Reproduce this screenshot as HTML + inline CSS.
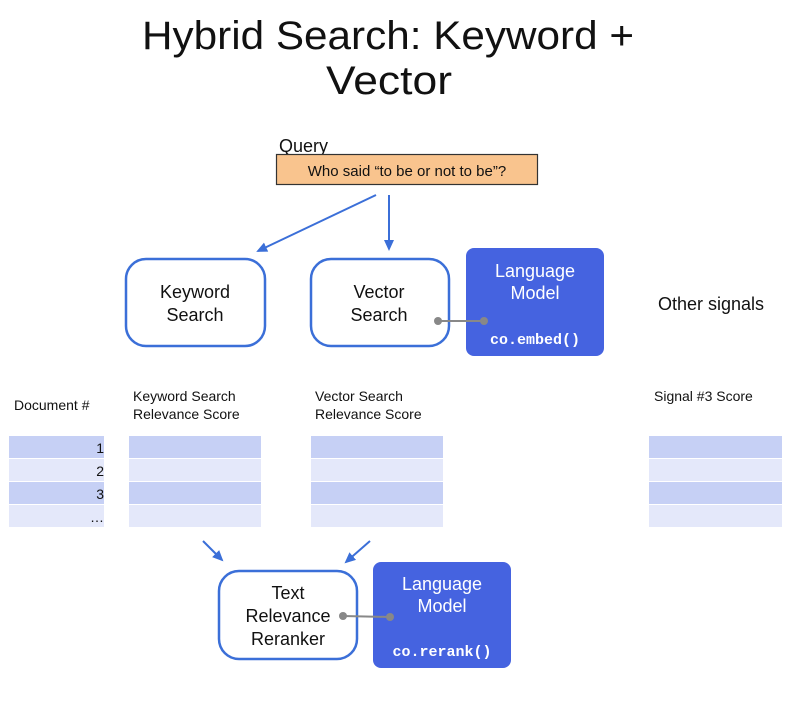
<!DOCTYPE html>
<html><head><meta charset="utf-8"><style>
html,body{margin:0;padding:0;background:#fff;}
svg{display:block;}
text{font-family:"Liberation Sans",Arial,sans-serif;}
text.mono{font-family:"Liberation Mono","DejaVu Sans Mono",monospace;font-weight:bold;}
</style></head><body>
<svg width="785" height="718" viewBox="0 0 785 718" xmlns="http://www.w3.org/2000/svg">
<defs>
<marker id="ah" markerWidth="12" markerHeight="12" refX="9" refY="6" orient="auto" markerUnits="userSpaceOnUse">
<path d="M0,1 L11,6 L0,11 z" fill="#3b6fd8"/>
</marker>
</defs>
<text x="142" y="49" font-size="40" fill="#111" textLength="492" lengthAdjust="spacingAndGlyphs">Hybrid Search: Keyword +</text>
<text x="326" y="94" font-size="40" fill="#111" textLength="126" lengthAdjust="spacingAndGlyphs">Vector</text>

<text x="279" y="152" font-size="18" fill="#111">Query</text>
<rect x="276.5" y="154.5" width="261" height="30" fill="#f9c48e" stroke="#333" stroke-width="1.2"/>
<text x="407" y="176" text-anchor="middle" font-size="15" fill="#111">Who said “to be or not to be”?</text>

<g stroke="#3b6fd8" stroke-width="2" fill="none" marker-end="url(#ah)">
<line x1="376" y1="195" x2="258" y2="251"/>
<line x1="389" y1="195" x2="389" y2="249"/>
<line x1="203" y1="541" x2="222" y2="560"/>
<line x1="370" y1="541" x2="346" y2="562"/>
</g>

<rect x="126" y="259" width="139" height="87" rx="20" fill="#fff" stroke="#3b6fd8" stroke-width="2.5"/>
<text x="195" y="298" text-anchor="middle" font-size="18" fill="#111">Keyword</text>
<text x="195" y="321" text-anchor="middle" font-size="18" fill="#111">Search</text>

<rect x="311" y="259" width="138" height="87" rx="20" fill="#fff" stroke="#3b6fd8" stroke-width="2.5"/>
<text x="379" y="298" text-anchor="middle" font-size="18" fill="#111">Vector</text>
<text x="379" y="321" text-anchor="middle" font-size="18" fill="#111">Search</text>

<rect x="466" y="248" width="138" height="108" rx="8" fill="#4563e0"/>
<text x="535" y="277" text-anchor="middle" font-size="18" fill="#fff">Language</text>
<text x="535" y="299" text-anchor="middle" font-size="18" fill="#fff">Model</text>
<text x="535" y="344" text-anchor="middle" font-size="15" class="mono" fill="#fff">co.embed()</text>
<line x1="438" y1="321" x2="484" y2="321" stroke="#888" stroke-width="2"/>
<circle cx="438" cy="321" r="4" fill="#888"/><circle cx="484" cy="321" r="4" fill="#888"/>

<text x="658" y="310" font-size="18" fill="#111">Other signals</text>

<text x="14" y="410" font-size="14" fill="#111">Document  #</text>
<text x="133" y="401" font-size="14" fill="#111">Keyword Search</text>
<text x="133" y="419" font-size="14" fill="#111">Relevance Score</text>
<text x="315" y="401" font-size="14" fill="#111">Vector Search</text>
<text x="315" y="419" font-size="14" fill="#111">Relevance Score</text>
<text x="654" y="401" font-size="14" fill="#111">Signal #3 Score</text>

<g>
<rect x="9" y="436" width="95" height="22" fill="#c6d0f5"/>
<rect x="9" y="459" width="95" height="22" fill="#e4e8fa"/>
<rect x="9" y="482" width="95" height="22" fill="#c6d0f5"/>
<rect x="9" y="505" width="95" height="22" fill="#e4e8fa"/>
<rect x="129" y="436" width="132" height="22" fill="#c6d0f5"/>
<rect x="129" y="459" width="132" height="22" fill="#e4e8fa"/>
<rect x="129" y="482" width="132" height="22" fill="#c6d0f5"/>
<rect x="129" y="505" width="132" height="22" fill="#e4e8fa"/>
<rect x="311" y="436" width="132" height="22" fill="#c6d0f5"/>
<rect x="311" y="459" width="132" height="22" fill="#e4e8fa"/>
<rect x="311" y="482" width="132" height="22" fill="#c6d0f5"/>
<rect x="311" y="505" width="132" height="22" fill="#e4e8fa"/>
<rect x="649" y="436" width="133" height="22" fill="#c6d0f5"/>
<rect x="649" y="459" width="133" height="22" fill="#e4e8fa"/>
<rect x="649" y="482" width="133" height="22" fill="#c6d0f5"/>
<rect x="649" y="505" width="133" height="22" fill="#e4e8fa"/>
</g>
<text x="104" y="453" text-anchor="end" font-size="14" fill="#111">1</text>
<text x="104" y="476" text-anchor="end" font-size="14" fill="#111">2</text>
<text x="104" y="499" text-anchor="end" font-size="14" fill="#111">3</text>
<text x="104" y="522" text-anchor="end" font-size="14" fill="#111">…</text>

<rect x="219" y="571" width="138" height="88" rx="20" fill="#fff" stroke="#3b6fd8" stroke-width="2.5"/>
<text x="288" y="599" text-anchor="middle" font-size="18" fill="#111">Text</text>
<text x="288" y="622" text-anchor="middle" font-size="18" fill="#111">Relevance</text>
<text x="288" y="645" text-anchor="middle" font-size="18" fill="#111">Reranker</text>

<rect x="373" y="562" width="138" height="106" rx="8" fill="#4563e0"/>
<text x="442" y="590" text-anchor="middle" font-size="18" fill="#fff">Language</text>
<text x="442" y="612" text-anchor="middle" font-size="18" fill="#fff">Model</text>
<text x="442" y="656" text-anchor="middle" font-size="15" class="mono" fill="#fff">co.rerank()</text>
<line x1="343" y1="616" x2="390" y2="617" stroke="#888" stroke-width="2"/>
<circle cx="343" cy="616" r="4" fill="#888"/><circle cx="390" cy="617" r="4" fill="#888"/>
</svg>
</body></html>
